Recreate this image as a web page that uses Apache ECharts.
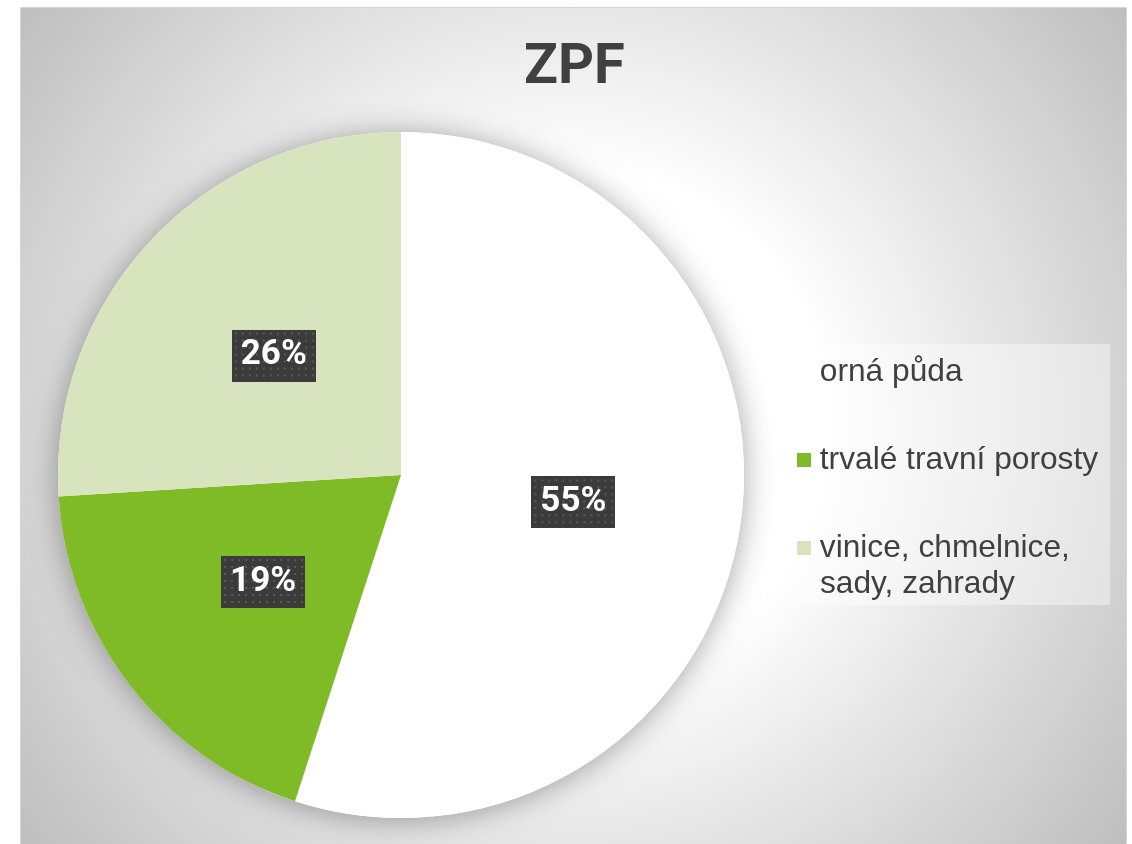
<!DOCTYPE html>
<html lang="cs">
<head>
    <meta charset="UTF-8">
    <title>ZPF</title>
    <script src="https://cdn.jsdelivr.net/npm/echarts@6/dist/echarts.min.js"></script>
    <style>
        html, body { margin: 0; padding: 0; background: #ffffff; }
    </style>
</head>
<body>
    <div id="main" style="width: 1132px;height:844px;"></div>
    <script type="text/javascript">
        // data (percent of ZPF)
        const categories = ['orná půda', 'trvalé travní porosty', 'vinice, chmelnice, sady, zahrady'];
        const shares = [55, 19, 26];
        const sliceColors = ['#ffffff', '#7fba27', '#d7e4bd'];
        const legendKeys = ['w', 'g', 'l'];

        // dotted dark background for the percentage boxes
        function dotPattern(w, h) {
            const c = document.createElement('canvas');
            c.width = w; c.height = h;
            const ctx = c.getContext('2d');
            ctx.fillStyle = '#3b3b3b';
            ctx.fillRect(0, 0, w, h);
            ctx.fillStyle = '#5a5a5a';
            for (let y = 3; y < h; y += 7) {
                for (let x = 3; x < w; x += 7) {
                    ctx.fillRect(x, y, 2, 2);
                }
            }
            return c;
        }

        let myChart = echarts.init(document.getElementById('main'));

        const pieData = categories.map((name, i) => ({
            name: name,
            value: shares[i],
            itemStyle: { color: sliceColors[i] }
        }));

        const total = shares.reduce((a, b) => a + b, 0);

        let rich = {
            ind: { width: 23 }
        };
        legendKeys.forEach((k, i) => {
            rich[k] = { width: 14, height: 14, backgroundColor: sliceColors[i] };
        });

        let options = {
            animation: false,
            graphic: [{
                type: 'rect',
                z: -10,
                silent: true,
                shape: { x: 20.5, y: 7.5, width: 1106, height: 840 },
                style: {
                    fill: {
                        type: 'radial', x: 573, y: 425, r: 700, global: true,
                        colorStops: [
                            { offset: 0, color: '#ffffff' },
                            { offset: 0.36, color: '#ffffff' },
                            { offset: 1, color: '#bdbdbd' }
                        ]
                    },
                    stroke: '#d6d6d6',
                    lineWidth: 1
                }
            }],
            title: {
                text: 'ZPF',
                left: 524,
                top: 41,
                padding: 0,
                textStyle: {
                    fontFamily: 'Roboto',
                    fontWeight: 'bold',
                    fontSize: 56,
                    color: '#404040'
                }
            },
            legend: {
                data: categories,
                orient: 'vertical',
                left: 782,
                top: 344,
                padding: [10, 12, 3, 10],
                itemGap: 52,
                itemWidth: 0,
                itemHeight: 14,
                itemStyle: { borderWidth: 0 },
                selectedMode: false,
                backgroundColor: 'rgba(255,255,255,0.4)',
                formatter: function (name) {
                    const i = categories.indexOf(name);
                    if (i === 2) {
                        return '{l|} vinice, chmelnice,\n{ind|}sady, zahrady';
                    }
                    return '{' + legendKeys[i] + '|} ' + name;
                },
                textStyle: {
                    fontFamily: 'Liberation Sans',
                    fontSize: 31.7,
                    lineHeight: 36,
                    color: '#404040',
                    rich: rich
                }
            },
            series: [
                {
                    // soft shadow under the whole pie
                    type: 'pie',
                    name: 'shadow',
                    center: [401, 475],
                    radius: 343,
                    silent: true,
                    label: { show: false },
                    labelLine: { show: false },
                    emphasis: { disabled: true },
                    data: [{
                        name: '_bg',
                        value: total,
                        itemStyle: {
                            color: '#ffffff',
                            shadowBlur: 30,
                            shadowColor: 'rgba(0,0,0,0.35)',
                            shadowOffsetY: 2
                        }
                    }]
                },
                {
                    type: 'pie',
                    name: 'ZPF',
                    center: [401, 475],
                    radius: 343,
                    startAngle: 90,
                    clockwise: true,
                    emphasis: { disabled: true },
                    label: {
                        show: true,
                        position: 'inside',
                        formatter: (p) => Math.round(p.percent) + '%',
                        fontFamily: 'Roboto',
                        fontWeight: 'bold',
                        fontSize: 35,
                        lineHeight: 40,
                        color: '#ffffff',
                        padding: [6, 9],
                        backgroundColor: { image: dotPattern(84, 52) },
                        shadowColor: 'rgba(0,0,0,0.45)',
                        shadowBlur: 6,
                        shadowOffsetX: 4,
                        shadowOffsetY: 4
                    },
                    labelLine: { show: false },
                    data: pieData
                }
            ]
        };

        myChart.setOption(options);
    </script>
</body>
</html>
